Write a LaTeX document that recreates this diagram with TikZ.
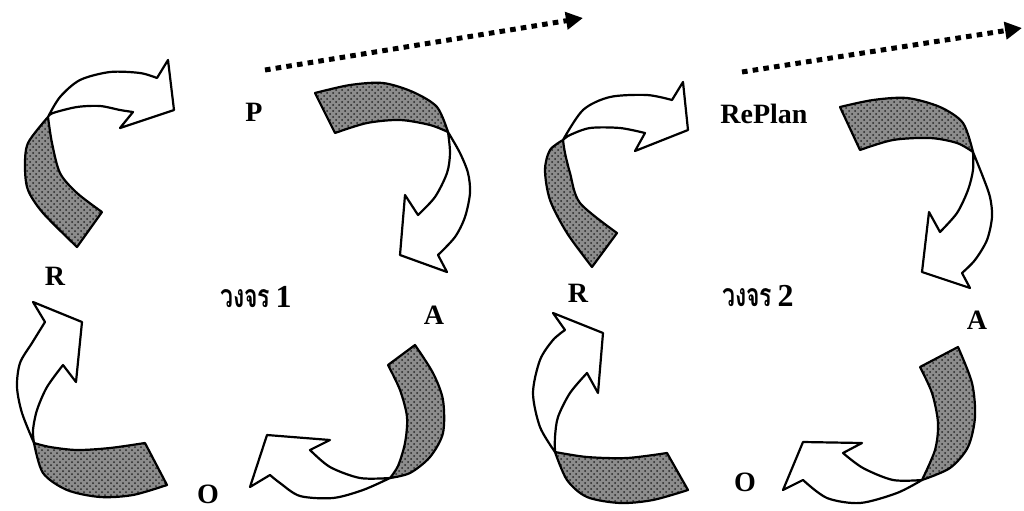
\documentclass[tikz,border=0pt]{standalone}
\usepackage{fontspec}
\setmainfont{Liberation Serif}
\newfontfamily\thaifont[Script=Thai]{Loma}
\usetikzlibrary{arrows.meta,patterns}
\begin{document}
\begin{tikzpicture}[x=0.5pt,y=-0.5pt,line join=round,
  ribbonshade/.style={preaction={fill=black!45},pattern=crosshatch dots,pattern color=black!85,draw=black,line width=1.1pt},
  ribbonwhite/.style={fill=white,draw=black,line width=1.1pt},
  dotarrow/.style={line width=2.5pt,dash pattern=on 2.8pt off 2.6pt,-{Triangle[length=8.5pt,width=8.5pt]}},
  lbl/.style={font=\fontsize{14}{16}\selectfont\bfseries,inner sep=0pt},
  thailbl/.style={font=\fontsize{16}{18}\selectfont\bfseries,inner sep=0pt}]
\useasboundingbox (0,0) rectangle (1024,510);
\fill[white] (0,0) rectangle (1024,510);

% ---------- cycle 1 ----------
% R -> P (top left)
\path[ribbonshade] plot[smooth] coordinates {(48,117) (28,143) (25,167) (28,190) (43,213) (77,247)} -- (102,212)
  -- plot[smooth] coordinates {(102,212) (77,193) (60,173) (52,143) (48,117)} -- cycle;
\path[ribbonwhite] plot[smooth] coordinates {(48,117) (60,97) (80,80) (110,72) (140,73) (157,78)} -- (168,60) -- (174,110) -- (120,128) -- (133,112)
  -- plot[smooth] coordinates {(133,112) (120,110) (100,106) (77,107) (53,113) (48,117)} -- cycle;
% P -> A (top right)
\path[ribbonshade] plot[smooth] coordinates {(315,93) (350,85) (383,83) (413,92) (437,107) (448,132)}
  -- plot[smooth] coordinates {(448,132) (430,125) (400,120) (367,123) (335,133)} -- cycle;
\path[ribbonwhite] plot[smooth] coordinates {(448,132) (460,153) (468,173) (470,193) (465,217) (455,237) (438,255)} -- (447,272) -- (400,255) -- (405,195) -- (418,215)
  -- plot[smooth] coordinates {(418,215) (435,197) (447,173) (450,153) (448,132)} -- cycle;
% A -> O (bottom right)
\path[ribbonshade] plot[smooth] coordinates {(388,365) (400,390) (407,417) (405,443) (398,466) (390,478)}
  -- plot[smooth] coordinates {(390,478) (410,473) (430,457) (443,433) (443,400) (433,373) (415,345)} -- cycle;
\path[ribbonwhite] plot[smooth] coordinates {(390,478) (363,490) (333,498) (300,496) (280,483) (270,475)} -- (250,487) -- (267,435) -- (330,440) -- (310,450)
  -- plot[smooth] coordinates {(310,450) (330,467) (360,478) (390,478)} -- cycle;
% O -> R (bottom left)
\path[ribbonshade] plot[smooth] coordinates {(34,443) (43,473) (67,490) (100,497) (133,495) (167,485)} -- (145,443)
  -- plot[smooth] coordinates {(145,443) (110,448) (77,450) (50,447) (34,443)} -- cycle;
\path[ribbonwhite] plot[smooth] coordinates {(34,443) (22,413) (17,387) (20,363) (32,343) (45,322)} -- (33,302) -- (82,322) -- (76,382) -- (63,365)
  -- plot[smooth] coordinates {(63,365) (47,387) (37,410) (33,430) (34,443)} -- cycle;

% ---------- cycle 2 ----------
% R -> RePlan (top left)
\path[ribbonshade] plot[smooth] coordinates {(563,140) (550,150) (545,170) (550,200) (567,233) (592,267)} -- (617,233)
  -- plot[smooth] coordinates {(617,233) (580,203) (570,173) (565,153) (563,140)} -- cycle;
\path[ribbonwhite] plot[smooth] coordinates {(563,140) (583,110) (610,97) (647,95) (672,100)} -- (683,82) -- (688,130) -- (635,151) -- (645,133)
  -- plot[smooth] coordinates {(645,133) (620,128) (590,128) (570,135) (563,140)} -- cycle;
% RePlan -> A (top right)
\path[ribbonshade] plot[smooth] coordinates {(840,107) (873,100) (907,98) (940,107) (963,123) (973,152)}
  -- plot[smooth] coordinates {(973,152) (957,143) (930,138) (893,140) (860,150)} -- cycle;
\path[ribbonwhite] plot[smooth] coordinates {(973,152) (983,177) (990,197) (992,217) (987,240) (975,260) (962,273)} -- (970,288) -- (922,272) -- (929,212) -- (940,232)
  -- plot[smooth] coordinates {(940,232) (957,213) (968,190) (973,170) (973,152)} -- cycle;
% A -> O (bottom right)
\path[ribbonshade] plot[smooth] coordinates {(920,367) (932,393) (938,423) (935,450) (922,480)}
  -- plot[smooth] coordinates {(922,480) (950,468) (968,447) (975,417) (972,383) (958,347)} -- cycle;
\path[ribbonwhite] plot[smooth] coordinates {(922,480) (897,493) (860,503) (827,498) (803,480)} -- (783,490) -- (803,442) -- (862,443) -- (843,453)
  -- plot[smooth] coordinates {(843,453) (863,468) (893,480) (922,480)} -- cycle;
% O -> R (bottom left)
\path[ribbonshade] plot[smooth] coordinates {(555,452) (567,480) (587,497) (620,503) (653,500) (688,490)} -- (667,453)
  -- plot[smooth] coordinates {(667,453) (627,458) (587,457) (555,452)} -- cycle;
\path[ribbonwhite] plot[smooth] coordinates {(555,452) (540,427) (533,393) (540,360) (553,340) (565,330)} -- (553,313) -- (603,333) -- (598,393) -- (587,373)
  -- plot[smooth] coordinates {(587,373) (570,393) (558,417) (555,437) (555,452)} -- cycle;

% ---------- dotted arrows ----------
\coordinate (d1s) at (265,70);
\coordinate (d1e) at (583,18);
\coordinate (d2s) at (742,72);
\coordinate (d2e) at (1022,28);
\draw[dotarrow] (d1s) -- (d1e);
\draw[dotarrow] (d2s) -- (d2e);

% ---------- labels ----------
\node[lbl] (P1) at (254,112) {P};
\node[lbl] (R1) at (55,276) {R};
\node[thailbl] (C1) at (256,297) {\scalebox{0.72}[1]{\thaifont วงจร}\,1};
\node[lbl] (A1) at (434,315) {A};
\node[lbl] (O1) at (208,494) {O};
\node[lbl] (P2) at (764,114) {RePlan};
\node[lbl] (R2) at (578,293) {R};
\node[thailbl] (C2) at (758,296) {\scalebox{0.72}[1]{\thaifont วงจร}\,2};
\node[lbl] (A2) at (977,320) {A};
\node[lbl] (O2) at (745,482) {O};
\end{tikzpicture}
\end{document}
